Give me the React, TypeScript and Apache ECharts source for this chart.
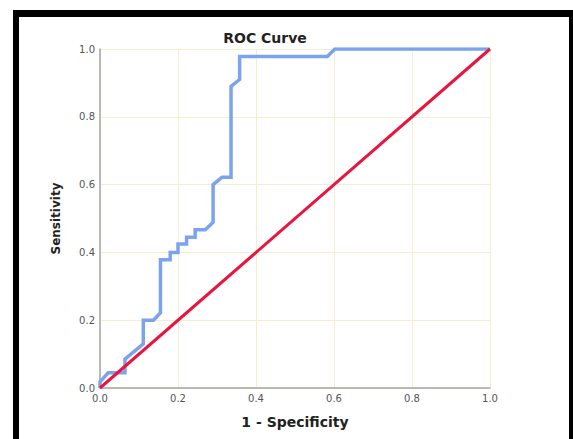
import React, { useEffect, useRef } from "react";
import * as echarts from "echarts";

// ROC curve (1 - specificity, sensitivity)
const rocFpr = [0, 0, 0.021, 0.064, 0.064, 0.111, 0.111, 0.137, 0.155, 0.155, 0.18, 0.18, 0.2, 0.2, 0.222, 0.222, 0.244, 0.244, 0.27, 0.29, 0.29, 0.313, 0.336, 0.336, 0.358, 0.358, 0.583, 0.602, 1.0];
const rocTpr = [0, 0.018, 0.045, 0.045, 0.085, 0.13, 0.2, 0.2, 0.222, 0.378, 0.378, 0.4, 0.4, 0.425, 0.425, 0.445, 0.445, 0.467, 0.467, 0.489, 0.6, 0.622, 0.622, 0.89, 0.91, 0.978, 0.978, 1.0, 1.0];
// Reference (chance) line
const refFpr = [0, 1];
const refTpr = [0, 1];
const tickValues = [0, 0.2, 0.4, 0.6, 0.8, 1.0];

const FONT = "DejaVu Sans";

export default function App() {
  const ref = useRef<HTMLDivElement>(null);
  useEffect(() => {
    const chart = echarts.init(ref.current!, null, { renderer: "svg" });
    const axisCommon = {
      type: "value",
      min: tickValues[0],
      max: tickValues[tickValues.length - 1],
      interval: 0.2,
      axisLine: { show: true, lineStyle: { color: "#a6a49e", width: 1.5 } },
      axisTick: { show: false },
      splitLine: { show: true, lineStyle: { color: "#f5eecf", width: 1 } },
      axisLabel: {
        formatter: (v: number) => v.toFixed(1),
        fontSize: 10,
        color: "#555",
        fontFamily: FONT,
        margin: 5,
      },
      nameLocation: "middle",
      nameTextStyle: { fontFamily: FONT, fontWeight: "bold", color: "#222" },
    };
    chart.setOption({
      animation: false,
      grid: { left: 100, right: 83, top: 49, bottom: 51 },
      graphic: [
        {
          type: "text",
          x: 265,
          y: 37.5,
          style: {
            text: "ROC Curve",
            fill: "#222",
            font: `bold 14px "${FONT}"`,
            textAlign: "center",
            textVerticalAlign: "middle",
            align: "center",
            verticalAlign: "middle",
          },
        },
      ],
      xAxis: {
        ...axisCommon,
        name: "1 - Specificity",
        nameGap: 27,
        nameTextStyle: { ...axisCommon.nameTextStyle, fontSize: 14 },
      },
      yAxis: {
        ...axisCommon,
        name: "Sensitivity",
        nameGap: 38,
        nameTextStyle: { ...axisCommon.nameTextStyle, fontSize: 12 },
      },
      series: [
        {
          type: "line",
          data: rocFpr.map((x, i) => [x, rocTpr[i]]),
          symbol: "none",
          lineStyle: { color: "#7ba4ec", width: 3.5, join: "miter" },
          z: 2,
        },
        {
          type: "line",
          data: refFpr.map((x, i) => [x, refTpr[i]]),
          symbol: "none",
          lineStyle: { color: "#e8163f", width: 3 },
          z: 3,
        },
      ],
    });
    return () => chart.dispose();
  }, []);
  return (
    <div style={{ position: "fixed", left: 0, top: 0, width: 573, height: 439, background: "#fff", overflow: "hidden" }}>
      <div
        style={{
          position: "absolute",
          left: 13,
          top: 10,
          width: 560,
          height: 520,
          boxSizing: "border-box",
          borderTop: "7px solid #000",
          borderLeft: "6px solid #000",
          borderRight: "4px solid #000",
          background: "#fff",
        }}
      />
      <div ref={ref} style={{ position: "absolute", left: 0, top: 0, width: 573, height: 439 }} />
    </div>
  );
}
